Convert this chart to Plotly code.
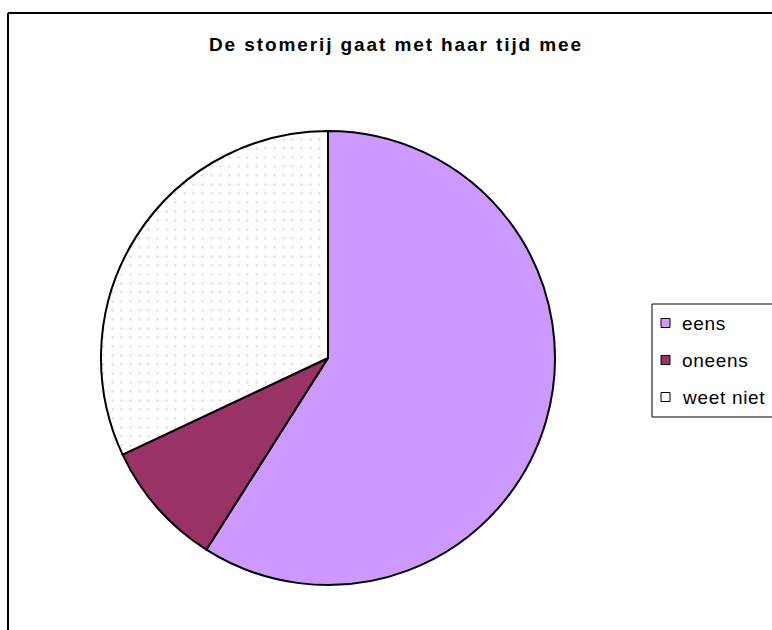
import plotly.graph_objects as go

# Survey answers for "De stomerij gaat met haar tijd mee" (share in %)
labels = ["eens", "oneens", "weet niet"]
values = [59, 9, 32]
colors = ["#CC99FF", "#993366", "#FFFFFF"]
patterns = ["", "", "."]

W, H = 772, 630


def px_x(x):
    return x / W


def px_y(y):
    return 1 - y / H


fig = go.Figure()

fig.add_trace(go.Pie(
    labels=labels,
    values=values,
    sort=False,
    direction="clockwise",
    rotation=0,
    textinfo="none",
    hoverinfo="label+percent",
    showlegend=False,
    marker=dict(
        colors=colors,
        line=dict(color="#000000", width=2),
        pattern=dict(shape=patterns, fgcolor="#AFAFAF", bgcolor="#FFFFFF",
                     size=9, solidity=0.05, fillmode="overlay"),
    ),
    domain=dict(x=[px_x(101), px_x(555)], y=[px_y(585), px_y(131)]),
))

shapes = []
annotations = []

# chart-area frame (left and top edges)
shapes.append(dict(type="line", xref="paper", yref="paper",
                   x0=px_x(8), x1=px_x(8), y0=px_y(13), y1=px_y(640),
                   line=dict(color="#000000", width=2)))
shapes.append(dict(type="line", xref="paper", yref="paper",
                   x0=px_x(8), x1=px_x(780), y0=px_y(13), y1=px_y(13),
                   line=dict(color="#000000", width=2)))

# legend box
shapes.append(dict(type="rect", xref="paper", yref="paper",
                   x0=px_x(652), x1=px_x(790), y0=px_y(417), y1=px_y(304),
                   line=dict(color="#000000", width=1), fillcolor="#FFFFFF",
                   layer="below"))

row_y = [323, 360, 397]
for lab, col, y in zip(labels, colors, row_y):
    shapes.append(dict(type="rect", xref="paper", yref="paper",
                       x0=px_x(661), x1=px_x(670), y0=px_y(y + 4.5), y1=px_y(y - 4.5),
                       line=dict(color="#000000", width=1), fillcolor=col))
    annotations.append(dict(text=f'<span style="letter-spacing:0.7px">{lab}</span>',
                            xref="paper", yref="paper",
                            x=px_x(680), y=px_y(y), xanchor="left", yanchor="middle",
                            showarrow=False,
                            font=dict(family="Arial, Liberation Sans", size=19, color="#000000")))

annotations.append(dict(text='<span style="letter-spacing:1.9px"><b>De stomerij gaat met haar tijd mee</b></span>',
                        xref="paper", yref="paper",
                        x=px_x(396), y=px_y(45), xanchor="center", yanchor="middle",
                        showarrow=False,
                        font=dict(family="Arial, Liberation Sans", size=19, color="#000000")))

fig.update_layout(
    width=W, height=H,
    margin=dict(l=0, r=0, t=0, b=0),
    paper_bgcolor="#FFFFFF",
    plot_bgcolor="#FFFFFF",
    shapes=shapes,
    annotations=annotations,
)

fig.write_html("out.html")
